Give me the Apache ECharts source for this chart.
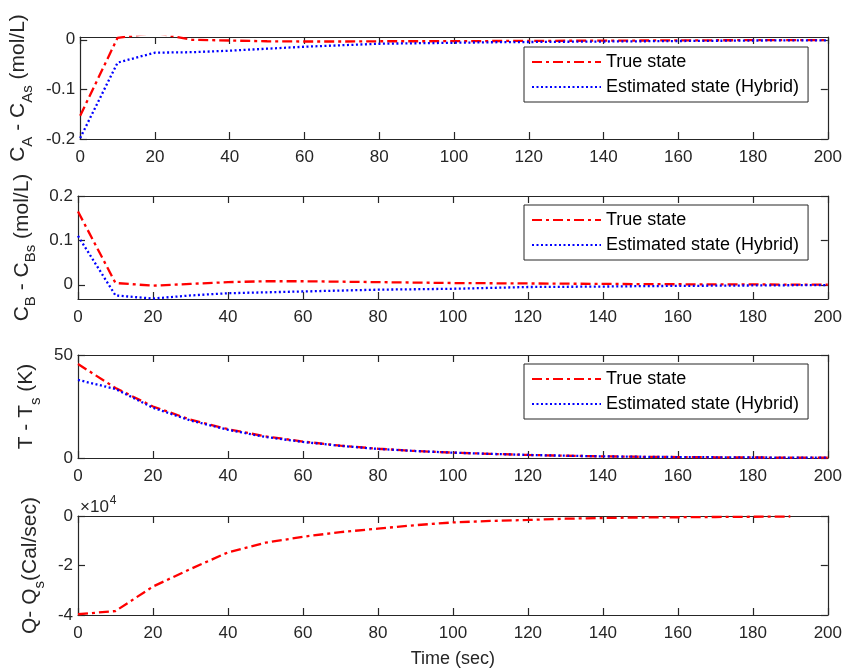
<!DOCTYPE html>
<html>
<head>
<meta charset="utf-8">
<script src="https://cdn.jsdelivr.net/npm/echarts@6/dist/echarts.min.js"></script>
<style>
  html, body { margin: 0; padding: 0; background: #ffffff; }
  #chart { width: 845px; height: 669px; }
</style>
</head>
<body>
<div id="chart"></div>
<script>
// Sample times (sec)
const timeSec  = [0, 10, 20, 30, 40, 50, 60, 70, 80, 90, 100, 110, 120, 130, 140, 150, 160, 170, 180, 190, 200];
const timeSecQ = [0, 10, 20, 30, 40, 50, 60, 70, 80, 90, 100, 110, 120, 130, 140, 150, 160, 170, 180, 190];

// C_A - C_As (mol/L)
const caTrue = [-0.153, 0.004, 0.014, 0.000, -0.0015, -0.003, -0.0035, -0.0035, -0.003, -0.003, -0.0028,
                -0.0025, -0.0022, -0.002, -0.0018, -0.0015, -0.0012, -0.001, -0.0008, -0.0006, -0.0005];
const caEst  = [-0.198, -0.046, -0.026, -0.025, -0.022, -0.018, -0.014, -0.011, -0.008, -0.007, -0.006,
                -0.005, -0.0045, -0.004, -0.0035, -0.003, -0.0025, -0.002, -0.0015, -0.0012, -0.001];

// C_B - C_Bs (mol/L)
const cbTrue = [0.165, 0.004, -0.002, 0.002, 0.006, 0.008, 0.008, 0.007, 0.006, 0.005, 0.004,
                0.0035, 0.003, 0.0025, 0.002, 0.0015, 0.0012, 0.001, 0.0008, 0.0005, 0.0003];
const cbEst  = [0.110, -0.024, -0.031, -0.024, -0.019, -0.017, -0.015, -0.013, -0.011, -0.010, -0.009,
                -0.007, -0.005, -0.0045, -0.004, -0.003, -0.0025, -0.002, -0.0015, -0.001, -0.0005];

// T - T_s (K)
const tTrue = [45.6, 34.0, 25.0, 18.6, 14.0, 10.5, 8.0, 6.0, 4.5, 3.4, 2.6,
               2.0, 1.5, 1.1, 0.8, 0.6, 0.45, 0.35, 0.25, 0.2, 0.15];
const tEst  = [37.9, 33.5, 24.4, 18.2, 13.7, 10.2, 7.8, 5.9, 4.4, 3.4, 2.6,
               2.0, 1.5, 1.1, 0.8, 0.6, 0.45, 0.35, 0.25, 0.2, 0.15];

// Q - Q_s (Cal/sec)
const qTrue = [-39700, -38400, -28500, -21400, -14700, -10800, -8400, -6500, -5100, -3700, -2600,
               -2000, -1600, -1100, -800, -600, -500, -400, -300, -200];

// Axis tick values
const caTicks = [-0.2, -0.1, 0];
const cbTicks = [0, 0.1, 0.2];
const tTicks  = [0, 50];
const qTicks  = [-40000, -20000, 0];

const legendNames = ['True state', 'Estimated state (Hybrid)'];

const FONT = 'Liberation Sans, Arial, Helvetica, sans-serif';
const AXIS_COLOR = '#262626';

const pairs = (xs, ys) => xs.map((x, i) => [x, ys[i]]);

const gridBoxes = [
  { top: 37,  height: 102, nameGap: 42 },
  { top: 196, height: 103, nameGap: 37 },
  { top: 355, height: 103, nameGap: 29 },
  { top: 516, height: 101, nameGap: 26 }
];

const yRanges = [
  { min: -0.2,   max: 0.0056, ticks: caTicks, fmt: v => String(+v.toFixed(1)) },
  { min: -0.032, max: 0.2,    ticks: cbTicks, fmt: v => String(+v.toFixed(1)) },
  { min: 0,      max: 50,     ticks: tTicks,  fmt: v => String(v) },
  { min: -40000, max: 0,      ticks: qTicks,  fmt: v => String(v / 10000) }
];

const yTitles = [
  '{m|C}{s|A}{m| - C}{s|As}{m| (mol/L)}',
  '{m|C}{s|B}{m| - C}{s|Bs}{m| (mol/L)}',
  '{m|T - T}{s|s}{m| (K)}',
  '{m|Q- Q}{s|s}{m|(Cal/sec)}'
];

const titleRich = {
  m: { fontSize: 21, fontFamily: FONT, color: AXIS_COLOR, lineHeight: 25, verticalAlign: 'top' },
  s: { fontSize: 15, fontFamily: FONT, color: AXIS_COLOR, lineHeight: 15, padding: [12, 0, 0, 0], verticalAlign: 'top' }
};

const axisLine = { show: true, onZero: false, lineStyle: { color: AXIS_COLOR, width: 1.2 } };
const tickStyle = { color: AXIS_COLOR, width: 1.2 };

const grid = gridBoxes.map(g => ({ left: 78, right: 16, top: g.top, height: g.height, containLabel: false }));

const xAxis = [];
const yAxis = [];
gridBoxes.forEach((g, i) => {
  // bottom x axis with labels
  xAxis.push({
    type: 'value', gridIndex: i, position: 'bottom', min: 0, max: 200, interval: 20,
    axisLine, splitLine: { show: false },
    axisTick: { show: true, inside: true, length: 7, lineStyle: tickStyle },
    axisLabel: { show: true, color: AXIS_COLOR, fontSize: 17, fontFamily: FONT, margin: 10 },
    name: i === 3 ? 'Time (sec)' : '',
    nameLocation: 'middle', nameGap: 35,
    nameTextStyle: { fontSize: 18, fontFamily: FONT, color: AXIS_COLOR }
  });
  // top x axis (box edge with ticks)
  xAxis.push({
    type: 'value', gridIndex: i, position: 'top', min: 0, max: 200, interval: 20,
    axisLine, splitLine: { show: false },
    axisTick: { show: true, inside: true, length: 7, lineStyle: tickStyle },
    axisLabel: { show: false }
  });
  const r = yRanges[i];
  // left y axis with labels and title
  yAxis.push({
    type: 'value', gridIndex: i, position: 'left', min: r.min, max: r.max,
    axisLine, splitLine: { show: false },
    axisTick: { show: true, inside: true, length: 7, lineStyle: tickStyle, customValues: r.ticks },
    axisLabel: { show: true, color: AXIS_COLOR, fontSize: 17, fontFamily: FONT, margin: 5,
                 customValues: r.ticks, formatter: r.fmt },
    name: yTitles[i], nameLocation: 'middle', nameRotate: 90, nameGap: g.nameGap,
    nameTextStyle: { rich: titleRich }
  });
  // right y axis (box edge with ticks)
  yAxis.push({
    type: 'value', gridIndex: i, position: 'right', min: r.min, max: r.max,
    axisLine, splitLine: { show: false },
    axisTick: { show: true, inside: true, length: 7, lineStyle: tickStyle, customValues: r.ticks },
    axisLabel: { show: false }
  });
});

const redStyle  = { color: '#ff0000', width: 2.3, type: [10, 4, 3, 4] };
const blueStyle = { color: '#0000ff', width: 2.3, type: [2, 2.5] };

function lineSeries(name, panel, xs, ys, style) {
  return {
    type: 'line', name, xAxisIndex: panel * 2, yAxisIndex: panel * 2,
    data: pairs(xs, ys), symbol: 'none', showSymbol: false,
    lineStyle: style, itemStyle: { color: style.color },
    emphasis: { disabled: true }, animation: false, clip: true
  };
}

const series = [
  lineSeries(legendNames[0], 0, timeSec, caTrue, redStyle),
  lineSeries(legendNames[1], 0, timeSec, caEst, blueStyle),
  lineSeries(legendNames[0], 1, timeSec, cbTrue, redStyle),
  lineSeries(legendNames[1], 1, timeSec, cbEst, blueStyle),
  lineSeries(legendNames[0], 2, timeSec, tTrue, redStyle),
  lineSeries(legendNames[1], 2, timeSec, tEst, blueStyle),
  lineSeries(legendNames[0], 3, timeSecQ, qTrue, redStyle)
];

const legendTops = [47, 205, 364];
const legend = legendTops.map(top => ({
  orient: 'vertical', left: 524, top,
  itemWidth: 69, itemHeight: 14, itemGap: 7,
  padding: [6, 9, 6, 7],
  borderColor: AXIS_COLOR, borderWidth: 1, backgroundColor: '#ffffff',
  selectedMode: false,
  itemStyle: { opacity: 0, borderWidth: 0 },
  textStyle: { fontSize: 18, fontFamily: FONT, color: '#000000' },
  data: legendNames
}));

const chart = echarts.init(document.getElementById('chart'), null, { renderer: 'canvas' });
chart.setOption({
  backgroundColor: '#ffffff',
  animation: false,
  grid, xAxis, yAxis, series, legend,
  graphic: [{
    type: 'text', left: 80, top: 495,
    style: {
      text: '{a|×10}{b|4}',
      rich: {
        a: { fontSize: 17, fontFamily: FONT, fill: AXIS_COLOR, lineHeight: 20, verticalAlign: 'bottom' },
        b: { fontSize: 12, fontFamily: FONT, fill: AXIS_COLOR, lineHeight: 20, verticalAlign: 'bottom', padding: [0, 0, 9, 1] }
      }
    }
  }]
});
</script>
</body>
</html>
